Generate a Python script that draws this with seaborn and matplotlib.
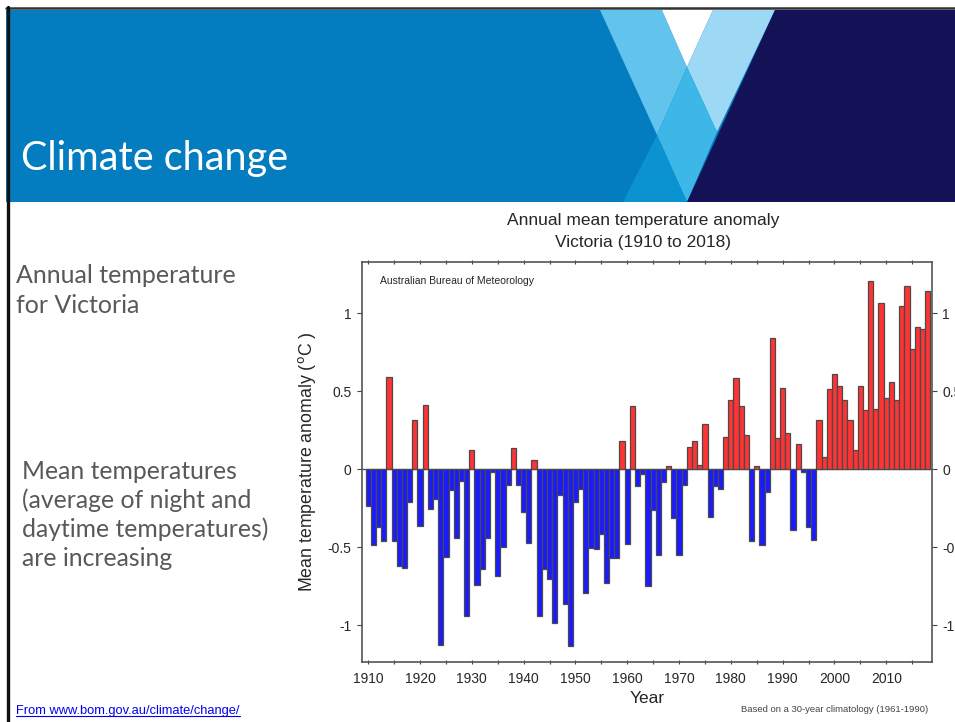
import numpy as np
import pandas as pd
import matplotlib
matplotlib.use('Agg')
import matplotlib.pyplot as plt
from matplotlib.ticker import MultipleLocator
import seaborn as sns

# annual mean temperature anomaly, Victoria (degC, vs 1961-1990)
years = list(range(1910, 2019))
anomaly = [
    -0.235, -0.485, -0.374, -0.464, 0.588, -0.464, -0.622, -0.635, -0.214, 0.312,
    -0.365, 0.408, -0.254, -0.194, -1.126, -0.566, -0.132, -0.442, -0.079, -0.940,
    0.120, -0.746, -0.643, -0.442, -0.021, -0.684, -0.500, -0.105, 0.137, -0.105,
    -0.278, -0.476, 0.058, -0.944, -0.643, -0.705, -0.987, -0.169, -0.863, -1.137,
    -0.214, -0.130, -0.795, -0.506, -0.513, -0.415, -0.731, -0.573, -0.573, 0.180,
    -0.483, 0.406, -0.109, -0.034, -0.752, -0.263, -0.553, -0.083, 0.021, -0.312,
    -0.553, -0.105, 0.139, 0.177, 0.026, 0.288, -0.306, -0.109, -0.128, 0.207,
    0.442, 0.585, 0.406, 0.220, -0.459, 0.021, -0.487, -0.145, 0.842, 0.199,
    0.517, 0.233, -0.389, 0.158, -0.021, -0.374, -0.453, 0.312, 0.077, 0.513,
    0.607, 0.530, 0.442, 0.316, 0.124, 0.530, 0.378, 1.207, 0.387, 1.064,
    0.455, 0.558, 0.442, 1.043, 1.175, 0.767, 0.910, 0.897, 1.139,
]
xticks = list(range(1910, 2020, 10))
yticks = [-1, -0.5, 0, 0.5, 1]
ytick_labels = ['-1', '-0.5', '0', '0.5', '1']

df = pd.DataFrame({'year': years, 'anomaly': anomaly})
warm = df[df['anomaly'] >= 0]
cool = df[df['anomaly'] < 0]

sns.set_theme(style='ticks')
plt.rcParams['font.family'] = ['Liberation Sans', 'DejaVu Sans']

W, H = 955, 722
fig = plt.figure(figsize=(W / 100, H / 100), dpi=100)
fig.patch.set_facecolor('white')

# slide background layer in pixel coords
bg = fig.add_axes([0, 0, 1, 1])
bg.set_xlim(0, W)
bg.set_ylim(H, 0)
bg.axis('off')

bg.fill([6, W, W, 6], [10, 10, 202, 202], color='#047DC0', lw=0)
bg.fill([600, 662, 687, 657], [10, 10, 67, 135], color='#62C3EC', lw=0)
bg.fill([662, 713, 687], [10, 10, 67], color='white', lw=0)
bg.fill([713, 775, 717, 687], [10, 10, 132, 67], color='#9DD8F4', lw=0)
bg.fill([687, 717, 687, 657], [67, 132, 202, 135], color='#3DB7E8', lw=0)
bg.fill([657, 687, 623], [135, 202, 202], color='#0B92D1', lw=0)
bg.fill([775, W, W, 687], [10, 10, 202, 202], color='#141257', lw=0)
bg.plot([6, W], [7.5, 7.5], color='#333333', lw=1.8)
bg.plot([8, 8], [6.5, H], color='#111111', lw=2.4)

bg.text(21, 170, 'Climate change', color='white', fontsize=28.5,
        family=['Lato', 'DejaVu Sans'], va='baseline', ha='left')

side_font = ['Lato', 'DejaVu Sans']
for i, line in enumerate(['Annual temperature', 'for Victoria']):
    bg.text(16, 283 + i * 30, line, color='#595959', fontsize=18,
            family=side_font, va='baseline')
for i, line in enumerate(['Mean temperatures', '(average of night and',
                          'daytime temperatures)', 'are increasing']):
    bg.text(22, 479 + i * 29, line, color='#595959', fontsize=17.8,
            family=side_font, va='baseline')

bg.text(16, 714, 'From www.bom.gov.au/climate/change/', color='#0000EE',
        fontsize=9.3, va='baseline')
bg.plot([16, 240], [716, 716], color='#0000EE', lw=0.8)

# chart
ax = fig.add_axes([362 / W, 1 - 662 / H, (932 - 362) / W, (662 - 262) / H])
for part, col in [(warm, '#FF3333'), (cool, '#1A1AFF')]:
    sns.barplot(data=part, x='year', y='anomaly', color=col, saturation=1,
                native_scale=True, width=1, edgecolor='#4A4A4A',
                linewidth=0.9, ax=ax)
ax.axhline(0, color='#4A4A4A', lw=0.9, zorder=0)

ax.set_xlim(1908.79, 2018.83)
ax.set_ylim(-1.237, 1.327)
ax.set_xticks(xticks)
ax.set_xticklabels([str(y) for y in xticks])
ax.xaxis.set_minor_locator(MultipleLocator(5))
ax.set_yticks(yticks)
ax.set_yticklabels(ytick_labels)

ax.tick_params(axis='x', which='both', bottom=True, top=True, direction='out',
               length=3, width=0.8, color='#444444', labelsize=10, pad=6)
ax.tick_params(axis='x', which='both', top=True, direction='inout')
ax.tick_params(axis='y', left=True, right=True, labelleft=True, labelright=True,
               length=3.5, width=0.8, color='#444444', labelsize=10, pad=4)
for s in ax.spines.values():
    s.set_visible(True)
    s.set_color('#555555')
    s.set_linewidth(1.2)

ax.set_xlabel('Year', fontsize=12.5, labelpad=3)
ax.set_ylabel('Mean temperature anomaly ($^{\\rm o}$C )', fontsize=12.8, labelpad=7)
ax.text(0.031, 0.965, 'Australian Bureau of Meteorology', transform=ax.transAxes,
        fontsize=7.5, va='top', ha='left')

fig.text(643 / W, 1 - 220 / H, 'Annual mean temperature anomaly',
         ha='center', va='center', fontsize=12.5)
fig.text(643 / W, 1 - 243 / H, 'Victoria (1910 to 2018)',
         ha='center', va='center', fontsize=12.5)
fig.text(928 / W, 1 - 710 / H, 'Based on a 30-year climatology (1961-1990)',
         ha='right', va='center', fontsize=6.8, color='#444444')

fig.savefig('out.png', dpi=100, facecolor='white')
